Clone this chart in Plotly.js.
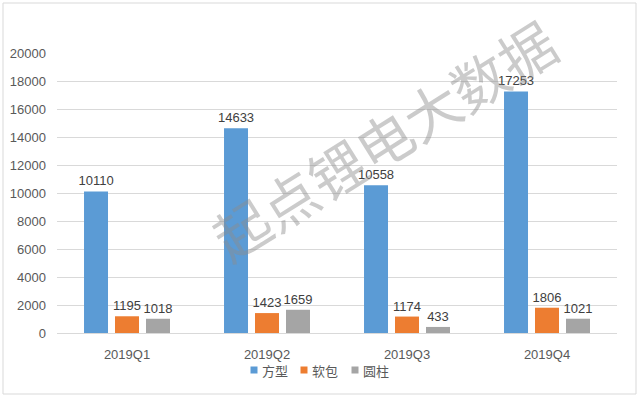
<!DOCTYPE html>
<html><head><meta charset="utf-8">
<script src="https://cdn.plot.ly/plotly-3.0.1.min.js"></script>
<style>html,body{margin:0;padding:0;background:#fff}#c{width:640px;height:398px}</style>
</head><body><div id="c"></div>
<script>
const categories = ["2019Q1","2019Q2","2019Q3","2019Q4"];
const seriesNames = ["方型","软包","圆柱"];
const fangxing = [10110,14633,10558,17253];
const ruanbao = [1195,1423,1174,1806];
const yuanzhu = [1018,1659,433,1021];
const colors = ["#5B9BD5","#ED7D31","#A5A5A5"];
const yTicks = [0,2000,4000,6000,8000,10000,12000,14000,16000,18000,20000];
const watermark = "起点锂电大数据";

const L = 57, T = 53, W = 560, H = 280;
const px = x => (x - L) / W;
const py = y => (T + H - y) / H;

const font = {family:"Liberation Sans, Arial, sans-serif", size:12, color:"#404040"};
const traces = [fangxing, ruanbao, yuanzhu].map((v,i)=>({
  type:"bar", name:seriesNames[i], x:categories, y:v,
  marker:{color:colors[i]}, text:v.map(String), textposition:"outside", constraintext:"none",
  textfont:{family:font.family,size:13,color:"#404040"}, cliponaxis:false,
  hoverinfo:"none"
}));

const sqX = [254, 304, 355];
const legendAnn = seriesNames.map((n,i)=>({text:n, xref:"paper", yref:"paper", x:px(sqX[i]+6), y:py(370),
  xanchor:"left", yanchor:"middle", showarrow:false, font:{family:"Noto Sans CJK SC", size:13, color:"#595959"}}));
const legendShapes = sqX.map((x,i)=>({type:"rect", xref:"paper", yref:"paper",
  x0:px(x-3.5), x1:px(x+3.5), y0:py(373.5), y1:py(366.5), fillcolor:colors[i], line:{width:0}}));

const layout = {
  width:640, height:398, paper_bgcolor:"#fff", plot_bgcolor:"#fff",
  margin:{l:L, r:640-L-W, t:T, b:398-T-H},
  font:font, barmode:"group", bargap:0.336, bargroupgap:0.226, showlegend:false,
  xaxis:{showgrid:false, showline:true, linecolor:"#d9d9d9", ticks:"", tickfont:{size:13,color:"#595959"}, ticklabelstandoff:9},
  yaxis:{range:[0,20000], tickvals:yTicks, ticktext:yTicks.map(String), showgrid:true, gridcolor:"#d9d9d9",
    zeroline:false, showline:false, tickfont:{size:13,color:"#595959"}, ticklabelstandoff:10},
  annotations:[{text:watermark, xref:"paper", yref:"paper", x:px(383), y:py(138), xanchor:"center", yanchor:"middle",
    showarrow:false, textangle:-32,
    font:{family:"Noto Sans CJK SC", size:56, color:"rgba(140,140,140,0.45)"}}].concat(legendAnn),
  shapes:[{type:"rect", xref:"paper", yref:"paper", x0:px(3), x1:px(636), y0:py(394), y1:py(3),
    line:{color:"#d9d9d9", width:1}}].concat(legendShapes)
};
Plotly.newPlot("c", traces, layout, {displayModeBar:false, staticPlot:true});
</script></body></html>
